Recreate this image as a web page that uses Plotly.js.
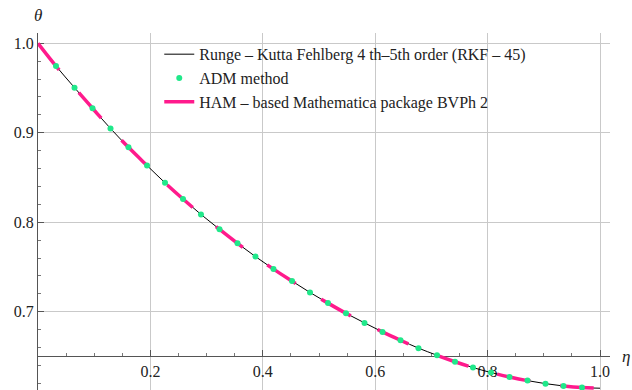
<!DOCTYPE html>
<html>
<head>
<meta charset="utf-8">
<script src="https://cdn.plot.ly/plotly-3.0.1.min.js"></script>
<style>html,body{margin:0;padding:0;background:#fff;}#chart{width:632px;height:390px;}</style>
</head>
<body>
<div id="chart"></div>
<script>
// ADM sample points
var admEta = [0.032,0.065,0.097,0.129,0.161,0.194,0.226,0.258,0.290,0.323,
              0.355,0.387,0.419,0.452,0.484,0.516,0.548,0.581,0.613,0.645,
              0.677,0.710,0.742,0.774,0.806,0.839,0.871,0.903,0.935,0.968];
var admTheta = [0.9746,0.9504,0.9274,0.9048,0.8837,0.8634,0.8441,0.8260,0.8087,0.7921,
                0.7764,0.7616,0.7476,0.7342,0.7215,0.7096,0.6982,0.6875,0.6774,0.6681,
                0.6593,0.6513,0.6441,0.6376,0.6320,0.6271,0.6230,0.6196,0.6170,0.6152];
// RKF-45 and HAM curves
var curveEta = [0,0.032,0.065,0.097,0.129,0.161,0.194,0.226,0.258,0.290,0.323,
                0.355,0.387,0.419,0.452,0.484,0.516,0.548,0.581,0.613,0.645,
                0.677,0.710,0.742,0.774,0.806,0.839,0.871,0.903,0.935,0.968,1.0];
var curveTheta = [1.0,0.9746,0.9504,0.9274,0.9048,0.8837,0.8634,0.8441,0.8260,0.8087,0.7921,
                  0.7764,0.7616,0.7476,0.7342,0.7215,0.7096,0.6982,0.6875,0.6774,0.6681,
                  0.6593,0.6513,0.6441,0.6376,0.6320,0.6271,0.6230,0.6196,0.6170,0.6152,0.6145];
var xTicks = [0.2,0.4,0.6,0.8,1.0];
var xTickText = ["0.2","0.4","0.6","0.8","1.0"];
var yTicks = [0.7,0.8,0.9,1.0];
var yTickText = ["0.7","0.8","0.9","1.0"];
var names = ["Runge \u2013 Kutta Fehlberg 4 th\u20135th order (RKF \u2013 45)",
             "ADM method",
             "HAM \u2013 based Mathematica package BVPh 2"];

var xRange = [0, 1.0178];
var yRange = [0.6125, 1.0115];
var xAxisCross = 0.65;
var serif = "serif";

var traces = [
  {x: curveEta, y: curveTheta, mode: "lines", name: names[0], legendrank: 1,
   line: {color: "#000000", width: 1, shape: "spline"}},
  {x: curveEta, y: curveTheta, mode: "lines", name: names[2], legendrank: 3,
   line: {color: "#ff1a8c", width: 3.5, dash: "34px,30px", shape: "spline"}},
  {x: admEta, y: admTheta, mode: "markers", name: names[1], legendrank: 2,
   marker: {color: "#20e88a", size: 6}}
];

var layout = {
  width: 632, height: 390,
  margin: {l: 37.5, r: 22, t: 33, b: 0, pad: 0},
  paper_bgcolor: "#ffffff", plot_bgcolor: "#ffffff",
  font: {family: serif, size: 16, color: "#222222"},
  showlegend: true,
  legend: {x: 0.212, y: 0.988, xanchor: "left", yanchor: "top",
           bgcolor: "rgba(0,0,0,0)", borderwidth: 0,
           font: {family: serif, size: 16, color: "#222222"},
           tracegroupgap: 0},
  xaxis: {range: xRange, anchor: "free",
          position: (xAxisCross - yRange[0]) / (yRange[1] - yRange[0]),
          tickmode: "array", tickvals: xTicks, ticktext: xTickText,
          showgrid: true, gridcolor: "#c9c9c9", gridwidth: 1,
          zeroline: false, showline: true, linecolor: "#555555", linewidth: 1,
          ticks: "inside", ticklen: 6, tickcolor: "#555555", layer: "below traces",
          minor: {tickmode: "linear", tick0: 0, dtick: 0.05, ticks: "inside", ticklen: 3,
                  tickcolor: "#777777", showgrid: false},
          tickfont: {family: serif, size: 16, color: "#222222"}},
  yaxis: {range: yRange, tickmode: "array", tickvals: yTicks, ticktext: yTickText,
          showgrid: true, gridcolor: "#c9c9c9", gridwidth: 1,
          zeroline: false, showline: true, linecolor: "#555555", linewidth: 1,
          ticks: "inside", ticklen: 6, tickcolor: "#555555", layer: "below traces",
          minor: {tickmode: "linear", tick0: 0, dtick: 0.02, ticks: "inside", ticklen: 3,
                  tickcolor: "#777777", showgrid: false},
          tickfont: {family: serif, size: 16, color: "#222222"}},
  annotations: [
    {text: "\u03b8", xref: "x", yref: "paper", x: 0, y: 1.048, showarrow: false,
     xanchor: "center", yanchor: "middle",
     font: {family: serif, size: 17, color: "#222222", style: "italic"}},
    {text: "\u03b7", xref: "paper", yref: "y", x: 1.028, y: xAxisCross, showarrow: false,
     xanchor: "center", yanchor: "middle",
     font: {family: serif, size: 17, color: "#222222", style: "italic"}}
  ]
};

Plotly.newPlot("chart", traces, layout, {displayModeBar: false, staticPlot: true});
</script>
</body>
</html>
